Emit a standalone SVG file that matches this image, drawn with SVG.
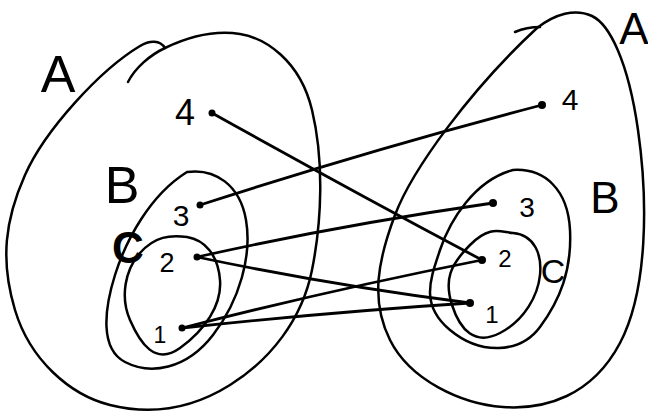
<svg xmlns="http://www.w3.org/2000/svg" width="648" height="416" viewBox="0 0 648 416">
<style>
.blob{fill:none;stroke:#000;stroke-width:2.5;stroke-linecap:round;stroke-linejoin:round}
.conn{fill:none;stroke:#000;stroke-width:2.8;stroke-linecap:round}
.dot{fill:#000}
.lbl{font-family:"Liberation Sans",Arial,sans-serif;fill:#000;text-anchor:middle}
</style>
<rect width="648" height="416" fill="#fff"/>
<g id="left-A">
<path class="blob" d="M140,46 C150,40 160,40 165,48 C190,36 215,30 240,34 S 300,60 312,110 S 322,220 312,270 S 270,360 230,385 S 150,415 110,405 S 30,360 15,310 S 5,220 25,175 S 100,70 140,46 Z"/>
<path class="blob" d="M165,48 C150,55 135,68 128,82"/>
<text class="lbl" x="58" y="92" font-size="52">A</text>
</g>
<g id="left-B">
<path class="blob" d="M187,172 C215,168 240,185 246,220 S 240,300 213,335 S 150,375 125,362 S 104,310 115,275 S 150,195 187,172 Z"/>
<text class="lbl" x="122" y="203" font-size="52">B</text>
</g>
<g id="left-C">
<path class="blob" d="M187,237 C205,240 218,255 220,280 S 205,330 180,348 S 140,343 130,320 S 125,270 140,253 S 170,235 187,237 Z"/>
<text class="lbl" x="128" y="263" font-size="44" font-weight="bold">C</text>
</g>
<g id="right-A">
<path class="blob" d="M537,28 C555,14 575,8 592,16 S 628,60 638,130 S 648,290 620,343 S 545,410 503,407 S 410,380 390,340 S 378,260 395,215 S 470,90 537,28"/>
<path class="blob" d="M515,32 C522,29 530,27 540,27"/>
<text class="lbl" x="634" y="44" font-size="44">A</text>
</g>
<g id="right-B">
<path class="blob" d="M513,170 C545,168 568,190 570,230 S 560,300 540,327 S 480,355 450,330 S 430,280 440,250 S 475,180 513,170 Z"/>
<text class="lbl" x="605" y="213" font-size="44">B</text>
</g>
<g id="right-C">
<path class="blob" d="M513,233 C535,235 542,255 540,275 S 525,320 500,333 S 460,330 452,305 S 450,265 470,245 S 500,232 513,233 Z"/>
<text class="lbl" x="553" y="283" font-size="34">C</text>
</g>
<g id="connectors">
<path class="conn" d="M212,113 Q 350,190 482,260"/>
<path class="conn" d="M200,205 Q 370,150 542,105"/>
<path class="conn" d="M197,257 Q 340,225 493,203"/>
<path class="conn" d="M197,257 Q 330,285 470,303"/>
<path class="conn" d="M182,328 Q 330,290 482,260"/>
<path class="conn" d="M182,328 Q 330,312 470,303"/>
</g>
<g id="L4"><circle class="dot" cx="212" cy="113" r="3.5"/><text class="lbl" x="185" y="125" font-size="36">4</text></g>
<g id="L3"><circle class="dot" cx="200" cy="205" r="3.5"/><text class="lbl" x="181" y="226" font-size="30">3</text></g>
<g id="L2"><circle class="dot" cx="197" cy="257" r="3.5"/><text class="lbl" x="167" y="272" font-size="27">2</text></g>
<g id="L1"><circle class="dot" cx="182" cy="328" r="3.5"/><text class="lbl" x="160" y="343" font-size="23">1</text></g>
<g id="R4"><circle class="dot" cx="542" cy="105" r="4"/><text class="lbl" x="570" y="110" font-size="30">4</text></g>
<g id="R3"><circle class="dot" cx="493" cy="203" r="4"/><text class="lbl" x="527" y="217" font-size="28">3</text></g>
<g id="R2"><circle class="dot" cx="482" cy="260" r="4"/><text class="lbl" x="505" y="267" font-size="24">2</text></g>
<g id="R1"><circle class="dot" cx="470" cy="303" r="4"/><text class="lbl" x="492" y="323" font-size="24">1</text></g>
</svg>
